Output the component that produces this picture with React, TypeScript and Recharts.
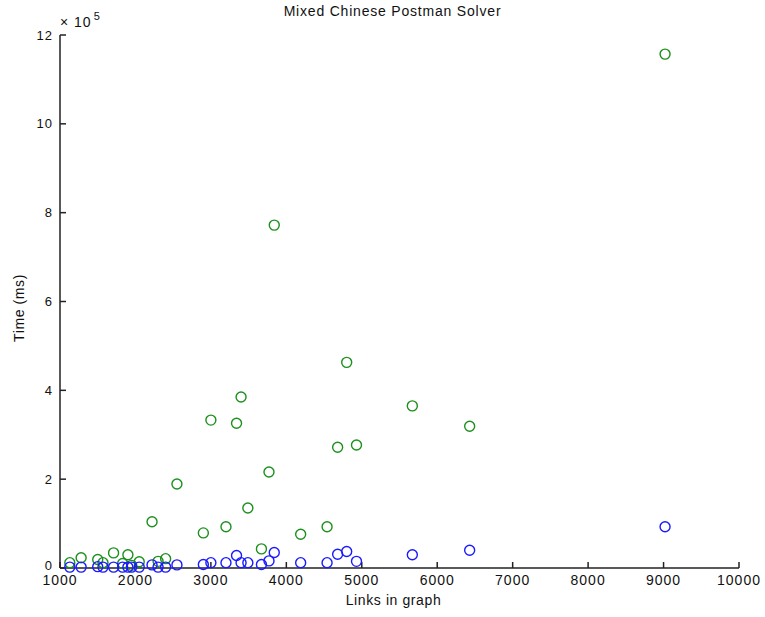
import React from 'react';
import { ScatterChart, Scatter, XAxis, YAxis } from 'recharts';

// links in graph for each test case
const links = [
  1130, 1280, 1500, 1570, 1710, 1830, 1900, 1950, 2050, 2220,
  2300, 2400, 2550, 2900, 3000, 3200, 3340, 3400, 3490, 3670,
  3770, 3840, 4190, 4540, 4680, 4800, 4930, 5670, 6430, 9020,
];

// solver time in ms (green series)
const greenTime = [
  12000, 23000, 19000, 12000, 34000, 10000, 30000, 6000, 14000, 104000,
  15000, 21000, 189000, 79000, 333000, 93000, 326000, 385000, 135000, 43000,
  216000, 772000, 76000, 93000, 272000, 463000, 277000, 365000, 319000, 1157000,
];

// solver time in ms (blue series)
const blueTime = [
  2000, 2000, 3000, 2000, 2000, 2000, 2000, 2000, 2000, 7000,
  2000, 2000, 7000, 8000, 12000, 12000, 28000, 12000, 12000, 8000,
  16000, 35000, 12000, 12000, 31000, 37000, 15000, 30000, 40000, 93000,
];

const xTicks = [1000, 2000, 3000, 4000, 5000, 6000, 7000, 8000, 9000, 10000];
const yTicks = [0, 200000, 400000, 600000, 800000, 1000000, 1200000];

const greenData = links.map((l, i) => ({ links: l, time: greenTime[i] }));
const blueData = links.map((l, i) => ({ links: l, time: blueTime[i] }));

const font = '"Liberation Sans", Arial, sans-serif';
const xTickStyle = { fontSize: 14, fill: '#111', fontFamily: font, letterSpacing: 1 };

const ring = (color: string) => (props: any) => (
  <circle cx={props.cx} cy={props.cy} r={5} fill="none" stroke={color} strokeWidth={1.4} />
);

// y tick text; the 0 is lifted a bit so it does not run into the 1000 below it
const YTick = (props: any) => {
  const { x, y, payload } = props;
  const lift = payload.value === 0 ? -3 : 0;
  return (
    <text x={x} y={y + lift} dy={4.5} textAnchor="end" fontSize={13} fill="#111" fontFamily={font} letterSpacing={1}>
      {payload.value / 100000}
    </text>
  );
};

export default function App() {
  return (
    <div style={{ position: 'absolute', left: 0, top: 0, width: 765, height: 617, background: '#fff', fontFamily: font }}>
      <ScatterChart width={765} height={617} margin={{ top: 35, right: 26, bottom: 0, left: 0 }}>
        <XAxis
          type="number"
          dataKey="links"
          domain={[1000, 10000]}
          ticks={xTicks}
          height={49}
          tickSize={-6}
          tickMargin={13}
          stroke="#222"
          strokeWidth={1.5}
          tick={xTickStyle}
        />
        <YAxis
          type="number"
          dataKey="time"
          domain={[0, 1200000]}
          ticks={yTicks}
          width={60}
          tickSize={-6}
          tickMargin={13}
          stroke="#222"
          strokeWidth={1.5}
          tick={<YTick />}
        />
        <Scatter data={greenData} shape={ring('#1c901c')} isAnimationActive={false} />
        <Scatter data={blueData} shape={ring('#1a1aff')} isAnimationActive={false} />
      </ScatterChart>
      <div style={{ position: 'absolute', left: 0, width: 785, top: 3, textAlign: 'center', fontSize: 14, letterSpacing: 0.8, color: '#111' }}>
        Mixed Chinese Postman Solver
      </div>
      <div style={{ position: 'absolute', left: 0, width: 787, top: 592, textAlign: 'center', fontSize: 14, letterSpacing: 0.6, color: '#111' }}>
        Links in graph
      </div>
      <div style={{ position: 'absolute', left: 19, top: 308, transform: 'translate(-50%, -50%) rotate(-90deg)', whiteSpace: 'nowrap', fontSize: 14, letterSpacing: 0.6, color: '#111' }}>
        Time (ms)
      </div>
      <div style={{ position: 'absolute', left: 60, top: 11, fontSize: 14, letterSpacing: 1, color: '#111', whiteSpace: 'nowrap' }}>
        × 10<sup style={{ fontSize: 11, position: 'relative', top: -1, marginLeft: 2 }}>5</sup>
      </div>
    </div>
  );
}
